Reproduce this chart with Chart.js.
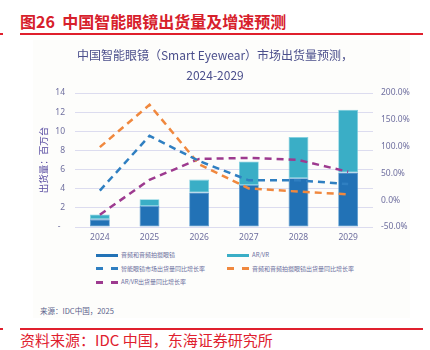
<!DOCTYPE html>
<html><head><meta charset="utf-8">
<script src="https://cdn.jsdelivr.net/npm/chart.js@4/dist/chart.umd.min.js"></script>
<style>
html,body{margin:0;padding:0;background:#fff;width:430px;height:350px;overflow:hidden;position:relative;font-family:"Noto Sans CJK SC","Noto Sans",sans-serif;}
.abs{position:absolute;white-space:nowrap;}
#title{left:20px;top:10px;font-size:16px;font-weight:bold;color:#d7202b;line-height:22px;}
.redline{position:absolute;height:1.5px;background:#e0202e;}
#panel{left:33px;top:40px;width:377px;height:278px;background:#fdfdfb;}
#wrap{position:absolute;left:0;top:40px;width:430px;height:207px;}
.lg{position:absolute;font-size:6px;color:#6b6f9e;line-height:8px;}
.sw{position:absolute;height:3px;}
#src{left:40px;top:305px;font-size:7.5px;color:#5a5f8a;}
#foot{left:20px;top:330px;font-size:15px;color:#e0202e;line-height:20px;}
</style></head>
<body>
<div class="abs" id="panel"></div>
<div class="abs" id="title">图26&nbsp;&nbsp;中国智能眼镜出货量及增速预测</div>
<div class="redline" style="left:20px;top:33px;width:403px"></div>
<div class="redline" style="left:0px;top:33px;width:3px"></div>
<div id="wrap"><canvas id="c" width="430" height="207"></canvas></div>
<div id="legend"></div>
<div class="abs" id="src">来源：IDC中国，2025</div>
<div class="redline" style="left:20px;top:328px;width:403px"></div>
<div class="redline" style="left:0px;top:328px;width:3px"></div>
<div class="abs" id="foot">资料来源：IDC 中国，东海证券研究所</div>
<script>
// ---- data ----
const years = ['2024','2025','2026','2027','2028','2029'];
const audioShip = [0.8, 2.2, 3.6, 4.4, 5.1, 5.7];          // 音频和音频拍摄眼镜 (百万台)
const arvrShip  = [0.5, 0.7, 1.35, 2.45, 4.3, 6.55];       // AR/VR (百万台)
const totalGrowth = [18, 120, 73, 37, 37, 30];            // 智能眼镜市场出货量同比增长率 (%)
const audioGrowth = [99, 178, 67, 22, 16, 11];            // 音频和音频拍摄眼镜出货量同比增长率 (%)
const arvrGrowth  = [-27, 38, 77, 79, 75, 53];            // AR/VR出货量同比增长率 (%)
const leftTicks = [0, 2, 4, 6, 8, 10, 12, 14];
const rightTicks = [-50, 0, 50, 100, 150, 200];
const subtitle = ['中国智能眼镜（Smart Eyewear）市场出货量预测，', '2024-2029'];
const axisTitle = '出货量：百万台';

const C = {
  audio:'#2272b6', arvr:'#3aaec6',
  lTotal:'#2f7fc1', lAudio:'#f0883e', lArvr:'#9d3a8f'
};
const tickFont = {family:'"Noto Sans","Noto Sans CJK SC",sans-serif', size:8.5};
const tickColor = '#6f6f9f';

new Chart(document.getElementById('c'), {
  data: {
    labels: years,
    datasets: [
      {type:'line', label:'智能眼镜市场出货量同比增长率', data: totalGrowth, yAxisID:'y1',
       borderColor:C.lTotal, borderWidth:2.5, borderDash:[7,5], pointRadius:0, tension:0, order:1},
      {type:'line', label:'音频和音频拍摄眼镜出货量同比增长率', data: audioGrowth, yAxisID:'y1',
       borderColor:C.lAudio, borderWidth:2.5, borderDash:[7,5], pointRadius:0, tension:0, order:1},
      {type:'line', label:'AR/VR出货量同比增长率', data: arvrGrowth, yAxisID:'y1',
       borderColor:C.lArvr, borderWidth:2.5, borderDash:[7,5], pointRadius:0, tension:0, order:1},
      {type:'bar', label:'音频和音频拍摄眼镜', data: audioShip, yAxisID:'y', stack:'s',
       backgroundColor:C.audio, borderColor:'#4f95cf', borderWidth:0.8, borderSkipped:false,
       categoryPercentage:1, barPercentage:0.4, order:2},
      {type:'bar', label:'AR/VR', data: arvrShip, yAxisID:'y', stack:'s',
       backgroundColor:C.arvr, borderColor:'#7fd0e0', borderWidth:0.8, borderSkipped:false,
       categoryPercentage:1, barPercentage:0.4, order:2}
    ]
  },
  options: {
    responsive:false, animation:false, maintainAspectRatio:false,
    layout:{padding:{left:0,right:0,top:0,bottom:0}},
    plugins:{
      legend:{display:false}, tooltip:{enabled:false},
      title:{display:true, text: subtitle, color:'#4b4f8c',
        font:{family:'"Noto Sans CJK SC",sans-serif', size:12, weight:'normal', lineHeight:20/12},
        padding:{top:5,bottom:8}}
    },
    scales:{
      x:{stacked:true, grid:{display:false, drawTicks:false}, border:{display:false},
         ticks:{color:tickColor, font:tickFont, padding:5},
         afterFit:s=>{s.height=20;}},
      y:{stacked:true, position:'left', min:0, max:14,
         afterBuildTicks:s=>{s.ticks = leftTicks.map(v=>({value:v}));},
         ticks:{color:tickColor, font:tickFont, padding:10,
                callback:v=> v===0 ? '-  ' : String(v)},
         grid:{color:'#dcdcef', lineWidth:1, drawTicks:false},
         border:{display:false},
         title:{display:true, text:axisTitle, color:'#5548a0',
                font:{family:'"Noto Sans CJK SC",sans-serif', size:9.5}, padding:{top:38,bottom:0}},
         afterFit:s=>{s.width=75;}},
      y1:{position:'right', min:-50, max:200,
         afterBuildTicks:s=>{s.ticks = rightTicks.map(v=>({value:v}));},
         ticks:{color:tickColor, font:tickFont, padding:8, callback:v=> v.toFixed(1)+'%'},
         grid:{display:false, drawTicks:false}, border:{display:false},
         afterFit:s=>{s.width=57;}}
    }
  }
});

// ---- legend (HTML) ----
const legendItems = [
  {text:'音频和音频拍摄眼镜', color:C.audio, solid:true, x:96, y:255},
  {text:'AR/VR', color:C.arvr, solid:true, x:227, y:255},
  {text:'智能眼镜市场出货量同比增长率', color:C.lTotal, solid:false, x:96, y:268.5},
  {text:'音频和音频拍摄眼镜出货量同比增长率', color:C.lAudio, solid:false, x:227, y:268.5},
  {text:'AR/VR出货量同比增长率', color:C.lArvr, solid:false, x:96, y:282}
];
const lg = document.getElementById('legend');
legendItems.forEach(it=>{
  if (it.solid) {
    const d=document.createElement('div'); d.className='sw';
    d.style.cssText=`left:${it.x}px;top:${it.y-1.5}px;width:22px;background:${it.color}`;
    lg.appendChild(d);
  } else {
    [0,15].forEach(o=>{
      const d=document.createElement('div'); d.className='sw';
      d.style.cssText=`left:${it.x+o}px;top:${it.y-1.5}px;width:7px;background:${it.color}`;
      lg.appendChild(d);
    });
  }
  const t=document.createElement('div'); t.className='lg';
  t.style.left=(it.x+25)+'px'; t.style.top=(it.y-4)+'px'; t.textContent=it.text;
  lg.appendChild(t);
});
</script>
</body></html>
